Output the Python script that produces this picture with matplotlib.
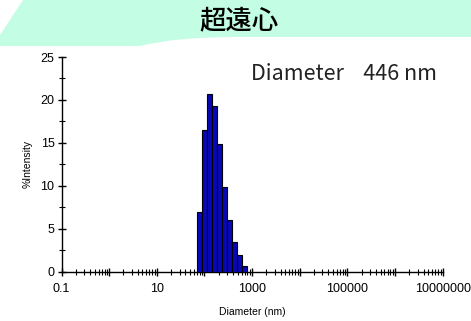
import numpy as np
import matplotlib
matplotlib.use('Agg')
import matplotlib.pyplot as plt
from matplotlib.path import Path
from matplotlib.patches import PathPatch
from matplotlib.ticker import LogLocator, FixedLocator, MultipleLocator, NullFormatter

# bin edges (nm) and intensity per bin (%)
edges = [70.8, 90.2, 114.8, 146.2, 186.2, 237.1, 302.0, 384.6, 489.8, 623.7, 794.3]
intensity = [6.9, 16.5, 20.7, 19.3, 14.9, 9.9, 6.0, 3.4, 1.9, 0.6]
decades = [0.1, 1, 10, 100, 1000, 10000, 100000, 1000000, 10000000]
xlabels = ['0.1', '', '10', '', '1000', '', '100000', '', '10000000']

W, H = 471, 321
fig = plt.figure(figsize=(W / 100, H / 100), dpi=100)

# mint header band
def px(x, y):
    return (x / W, 1 - y / H)

verts = [px(23, 0), px(471, 0), px(471, 37), px(235, 37),
         px(175, 37), px(140, 46), px(0, 46), px(0, 35), px(23, 0)]
codes = [Path.MOVETO, Path.LINETO, Path.LINETO, Path.LINETO,
         Path.CURVE3, Path.CURVE3, Path.LINETO, Path.LINETO, Path.CLOSEPOLY]
fig.patches.append(PathPatch(Path(verts, codes), facecolor='#c3fde3',
                             edgecolor='none', transform=fig.transFigure))
fig.text(239 / W, 1 - 21 / H, '超遠心', ha='center', va='center',
         fontsize=19, family=['Noto Sans CJK JP', 'DejaVu Sans'], weight='medium')

ax = fig.add_axes([61.5 / W, 1 - 271.5 / H, (442.7 - 61.5) / W, (271.5 - 57) / H])
ax.bar(edges[:-1], intensity, width=np.diff(edges), align='edge',
       color='#0808b8', edgecolor='black', linewidth=0.8, zorder=3)

ax.set_xscale('log')
ax.set_xlim(0.1, 1e7)
ax.set_ylim(0, 25)
for s in ['top', 'right']:
    ax.spines[s].set_visible(False)
ax.spines['left'].set_linewidth(1.0)
ax.spines['bottom'].set_linewidth(1.0)

ax.xaxis.set_major_locator(FixedLocator(decades))
ax.xaxis.set_minor_locator(LogLocator(base=10, subs=np.arange(2, 10), numticks=20))
ax.xaxis.set_minor_formatter(NullFormatter())
ax.set_xticklabels(xlabels)
ax.yaxis.set_major_locator(MultipleLocator(5))
ax.yaxis.set_minor_locator(MultipleLocator(2.5))

font = ['Liberation Sans', 'DejaVu Sans']
ax.tick_params(which='major', direction='inout', length=6, width=1.0,
               labelsize=9, pad=2)
ax.tick_params(which='minor', direction='inout', length=4, width=0.8)
ax.tick_params(axis='x', which='major', pad=5)
for lab in ax.get_xticklabels() + ax.get_yticklabels():
    lab.set_family(font)

ax.set_xlabel('Diameter (nm)', fontsize=7.5, family=font, labelpad=9)
ax.set_ylabel('%Intensity', fontsize=7.5, family=font, labelpad=6)

ax.text(0.985, 0.92, 'Diameter    446 nm', transform=ax.transAxes, ha='right',
        va='center', fontsize=15.5, color='#222222',
        family=['Noto Sans CJK JP', 'DejaVu Sans'])

fig.savefig('out.png', dpi=100)
